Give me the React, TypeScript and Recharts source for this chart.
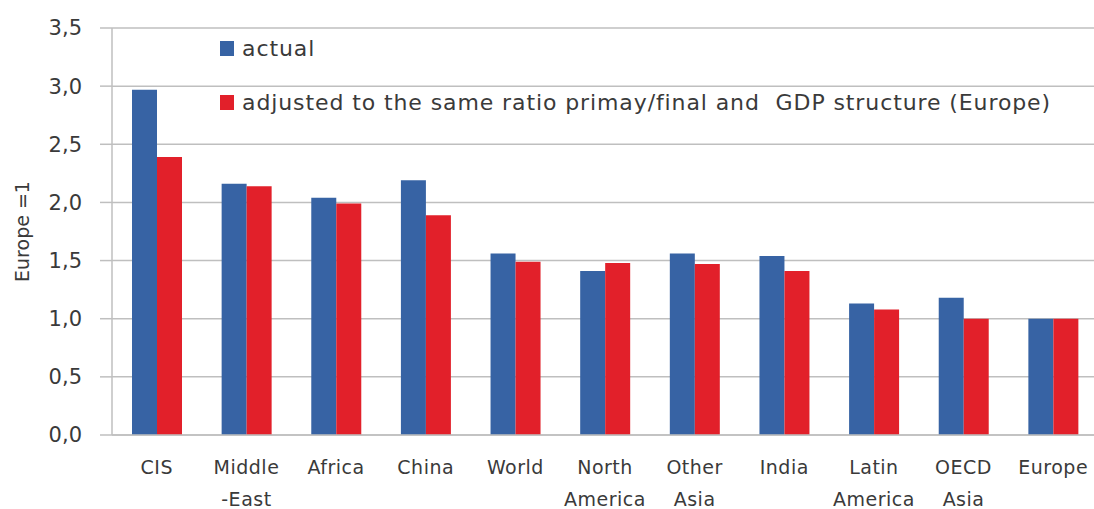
import { BarChart, Bar, XAxis, YAxis, CartesianGrid } from 'recharts';

const regions = [
  'CIS',
  'Middle\n-East',
  'Africa',
  'China',
  'World',
  'North\nAmerica',
  'Other\nAsia',
  'India',
  'Latin\nAmerica',
  'OECD\nAsia',
  'Europe',
];
const actual = [2.97, 2.16, 2.04, 2.19, 1.56, 1.41, 1.56, 1.54, 1.13, 1.18, 1.0];
const adjusted = [2.39, 2.14, 1.99, 1.89, 1.49, 1.48, 1.47, 1.41, 1.08, 1.0, 1.0];
const yTicks = [0, 0.5, 1, 1.5, 2, 2.5, 3, 3.5];

const BLUE = '#3763A4';
const RED = '#E2202A';
const GRID = '#BFBFBF';
const TEXT = '#3A3A3A';
const FONT = '"DejaVu Sans", Verdana, sans-serif';

const data = regions.map((region, i) => ({
  region,
  actual: actual[i],
  adjusted: adjusted[i],
}));

const fmt = (v: number) => v.toFixed(1).replace('.', ',');

function RegionTick({ x, y, payload }: any) {
  const lines = String(payload.value).split('\n');
  return (
    <text
      x={x}
      y={y}
      textAnchor="middle"
      fill={TEXT}
      fontSize={19}
      letterSpacing={0.5}
      fontFamily={FONT}
    >
      {lines.map((line, i) => (
        <tspan key={i} x={x} dy={i === 0 ? 31 : 32}>
          {line}
        </tspan>
      ))}
    </text>
  );
}

function YLabel({ viewBox }: any) {
  const cy = viewBox.y + viewBox.height / 2;
  return (
    <text
      x={22}
      y={cy}
      transform={`rotate(-90, 22, ${cy})`}
      textAnchor="middle"
      dominantBaseline="central"
      fill={TEXT}
      fontSize={19}
      fontFamily={FONT}
    >
      Europe =1
    </text>
  );
}

const legendItems = [
  { label: 'actual', color: BLUE },
  { label: 'adjusted to the same ratio primay/final and  GDP structure (Europe)', color: RED },
];

export default function App() {
  return (
    <div
      style={{
        position: 'absolute',
        left: 0,
        top: 0,
        width: 1094,
        height: 509,
        overflow: 'hidden',
        background: '#fff',
      }}
    >
      <BarChart
        width={1098}
        height={509}
        data={data}
        margin={{ top: 28, right: 0, bottom: 0, left: 0 }}
        barGap={0}
        barSize={25}
      >
        <CartesianGrid vertical={false} stroke={GRID} strokeWidth={1.5} />
        <XAxis
          dataKey="region"
          height={74}
          interval={0}
          tickLine={false}
          axisLine={{ stroke: GRID, strokeWidth: 1.5 }}
          tick={<RegionTick />}
        />
        <YAxis
          width={112}
          domain={[0, 3.5]}
          ticks={yTicks}
          tickFormatter={fmt}
          tickSize={12}
          tickMargin={18}
          tickLine={{ stroke: GRID, strokeWidth: 1.5 }}
          axisLine={{ stroke: GRID, strokeWidth: 1.5 }}
          tick={{ fill: TEXT, fontSize: 21, fontFamily: FONT }}
          label={<YLabel />}
        />
        <Bar dataKey="actual" fill={BLUE} isAnimationActive={false} />
        <Bar dataKey="adjusted" fill={RED} isAnimationActive={false} />
      </BarChart>
      <div
        style={{
          position: 'absolute',
          left: 220,
          top: 21,
          fontFamily: FONT,
          fontSize: 22,
          letterSpacing: 0.9,
          color: TEXT,
        }}
      >
        {legendItems.map((item) => (
          <div
            key={item.label}
            style={{ display: 'flex', alignItems: 'center', height: 54, whiteSpace: 'pre' }}
          >
            <span
              style={{
                display: 'inline-block',
                width: 14,
                height: 15,
                background: item.color,
                marginRight: 8,
              }}
            />
            {item.label}
          </div>
        ))}
      </div>
    </div>
  );
}
